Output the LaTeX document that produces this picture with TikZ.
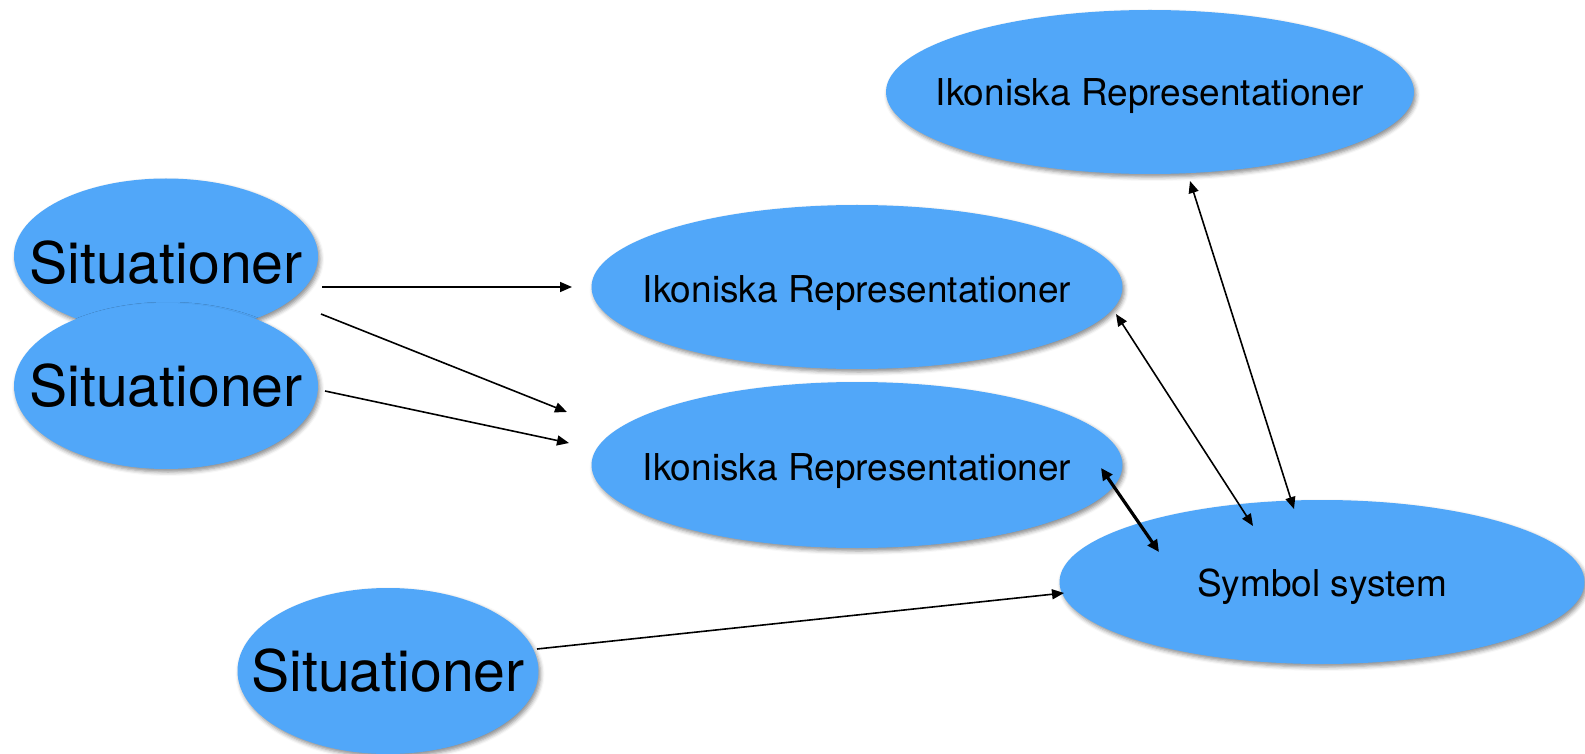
\documentclass[tikz,border=0pt]{standalone}
\usepackage{fontspec}
\setmainfont{TeX Gyre Heros}
\usetikzlibrary{shapes.geometric,arrows.meta,shadows.blur}
\definecolor{bubble}{RGB}{81,167,249}
\newcommand{\zw}[2]{\smash{\raisebox{-#1}{\makebox[0pt]{#2}}}}
\begin{document}
\begin{tikzpicture}[x=0.5pt,y=-0.5pt,
  bub/.style={ellipse,fill=bubble,inner sep=0pt,
    blur shadow={shadow xshift=1pt,shadow yshift=-1.5pt,shadow blur radius=2pt,shadow opacity=45}},
  big/.style={font=\fontsize{28.6}{32}\selectfont},
  small/.style={font=\fontsize{18.5}{22}\selectfont},
  conn/.style={line width=0.8pt,-{Triangle[length=6pt,width=5pt]}},
  dconn/.style={line width=0.8pt,{Triangle[length=6pt,width=5pt]}-{Triangle[length=6pt,width=5pt]}},
  tconn/.style={line width=1.6pt,{Triangle[length=6pt,width=5.5pt]}-{Triangle[length=6pt,width=5.5pt]}}]
\useasboundingbox (0,0) rectangle (1585,754);
\node[bub,big,minimum width=304*0.5pt,minimum height=155*0.5pt] (sit1) at (166,256) {\zw{13.8pt}{Situationer}};
\node[bub,big,minimum width=304*0.5pt,minimum height=166*0.5pt] (sit2) at (166,386) {\zw{10.3pt}{Situationer}};
\node[bub,big,minimum width=301*0.5pt,minimum height=166*0.5pt] (sit3) at (388,671) {\zw{10.3pt}{Situationer}};
\node[bub,small,minimum width=528*0.5pt,minimum height=164*0.5pt] (ik1) at (1150,92) {\zw{6.9pt}{Ikoniska Representationer}};
\node[bub,small,minimum width=531*0.5pt,minimum height=164*0.5pt] (ik2) at (857,287) {\zw{7.6pt}{Ikoniska Representationer}};
\node[bub,small,minimum width=531*0.5pt,minimum height=166*0.5pt] (ik3) at (857,465) {\zw{7.6pt}{Ikoniska Representationer}};
\node[bub,small,minimum width=525*0.5pt,minimum height=164*0.5pt] (sym) at (1322,582) {\zw{7.4pt}{Symbol system}};
% connector end points
\coordinate (a1) at (322,287); \coordinate (a2) at (572,287);
\coordinate (b1) at (321,314); \coordinate (b2) at (567,412);
\coordinate (c1) at (325,391); \coordinate (c2) at (569,443);
\coordinate (d1) at (537,649); \coordinate (d2) at (1064,593);
\coordinate (e1) at (1101,468); \coordinate (e2) at (1159,552);
\coordinate (f1) at (1116,314); \coordinate (f2) at (1253,526);
\coordinate (g1) at (1190,181); \coordinate (g2) at (1294,509);
\draw[conn] (a1) -- (a2);
\draw[conn] (b1) -- (b2);
\draw[conn] (c1) -- (c2);
\draw[conn] (d1) -- (d2);
\draw[tconn] (e1) -- (e2);
\draw[dconn] (f1) -- (f2);
\draw[dconn] (g1) -- (g2);
\end{tikzpicture}
\end{document}
